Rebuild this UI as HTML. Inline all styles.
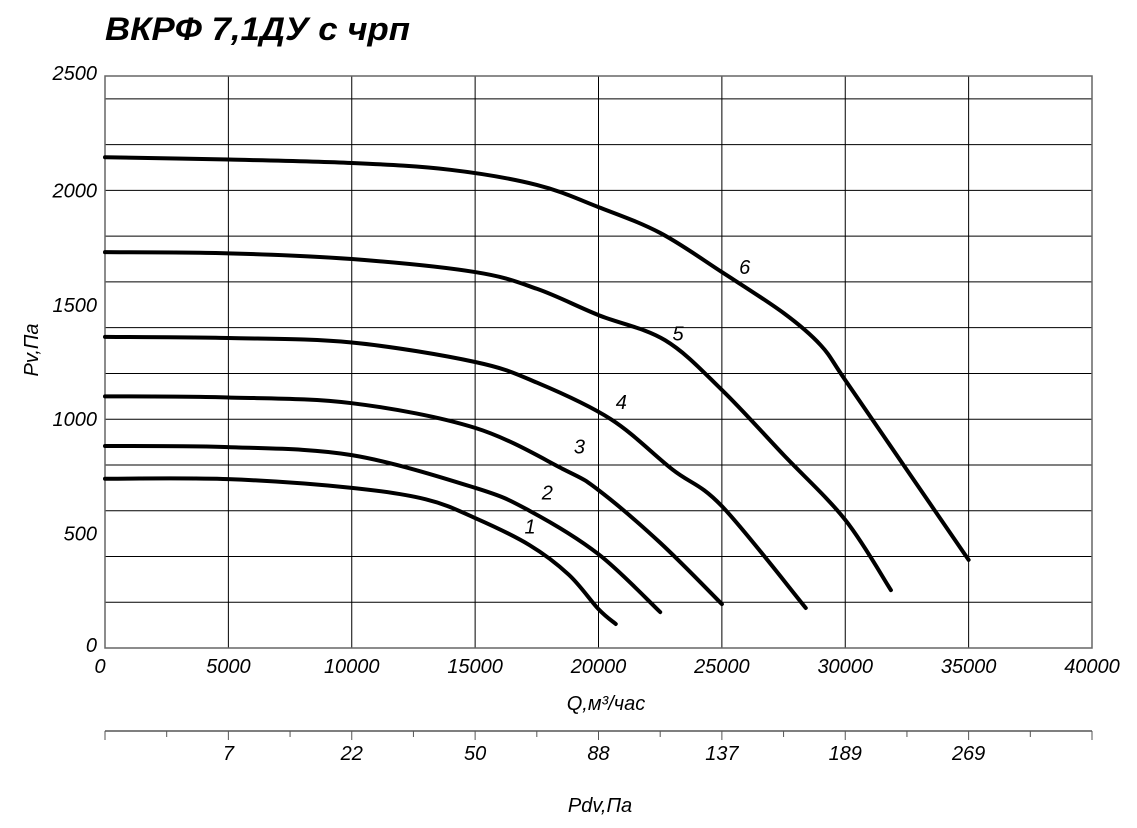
<!DOCTYPE html>
<html><head><meta charset="utf-8"><style>
body{margin:0;background:#fff;}
svg{display:block;font-family:"Liberation Sans","DejaVu Sans",sans-serif;}
</style></head><body>
<svg id="chart" width="1137" height="828" viewBox="0 0 1137 828">
<text x="105" y="40" font-size="32" font-weight="bold" font-style="italic" textLength="305" lengthAdjust="spacingAndGlyphs">ВКРФ 7,1ДУ с чрп</text>
<g id="grid"></g><g id="axes"></g><g id="curves"></g>
<text transform="translate(38,350) rotate(-90)" text-anchor="middle" font-size="20" font-style="italic">Pv,Па</text>
<text x="606" y="710" text-anchor="middle" font-size="20" font-style="italic">Q,м³/час</text>
<text x="600" y="812" text-anchor="middle" font-size="20" font-style="italic">Pdv,Па</text>
</svg>
<script>
const xTicks=[0,5000,10000,15000,20000,25000,30000,35000,40000];
const yTicks=[0,500,1000,1500,2000,2500];
const pdvLabels=["7","22","50","88","137","189","269"];
const pdvPositions=[5000,10000,15000,20000,25000,30000,35000];
const curveNames=["1","2","3","4","5","6"];
const q1=[0,5000,10000,13000,15000,17200,18800,20000,20700];
const p1=[740,738,700,650,568,450,320,170,105];
const q2=[0,5000,10000,15000,17200,20000,22500];
const p2=[883,878,843,700,600,410,157];
const q3=[0,5000,10000,15000,18600,20000,22500,25000];
const p3=[1100,1095,1070,962,780,690,460,192];
const q4=[0,5000,10000,15000,17500,20500,23000,25000,28400];
const p4=[1360,1355,1335,1250,1160,1000,780,620,175];
const q5=[0,5000,10000,15000,17500,20000,22700,25000,27500,30000,31850];
const p5=[1730,1725,1700,1643,1570,1455,1345,1128,844,560,253];
const q6=[0,5000,10000,14000,17500,20000,22500,25000,27500,29000,30000,32500,35000];
const p6=[2145,2135,2120,2090,2024,1927,1814,1643,1464,1324,1171,778,385];
const labelQ=[17000,17700,19000,20700,23000,25700];
const labelP=[500,650,850,1045,1345,1635];
const qs=[q1,q2,q3,q4,q5,q6], ps=[p1,p2,p3,p4,p5,p6];
const X=q=>105+q*(1092-105)/40000;
const Y=p=>648-p*(648-76)/2500;
const NS="http://www.w3.org/2000/svg";
function mk(t,a,parent,txt){const e=document.createElementNS(NS,t);for(const k in a)e.setAttribute(k,a[k]);if(txt!==undefined)e.textContent=txt;parent.appendChild(e);return e;}
const grid=document.getElementById('grid'),axes=document.getElementById('axes'),cv=document.getElementById('curves');
for(let p=200;p<2500;p+=200){const l=mk('line',{x1:105,x2:1092,y1:Y(p),y2:Y(p),stroke:'#000','stroke-width':1},grid);

}
xTicks.forEach(q=>{if(q>0&&q<40000){const l=mk('line',{x1:X(q),x2:X(q),y1:76,y2:648,stroke:'#000','stroke-width':1},grid);

}});
const fr=mk('rect',{x:105,y:76,width:987,height:572,fill:'none',stroke:'#666','stroke-width':1.5},grid);


xTicks.forEach(q=>{const t=mk('text',{x:X(q)-(q==0?5:0),y:673,'text-anchor':'middle','font-size':20,'font-style':'italic'},axes,String(q));

});
yTicks.forEach(p=>{const t=mk('text',{x:97,y:Y(p)+(p==0?4:p==2500?4:7),'text-anchor':'end','font-size':20,'font-style':'italic'},axes,String(p));

});
const al=mk('line',{x1:105,x2:1092,y1:731,y2:731,stroke:'#555','stroke-width':1.5},axes);


for(let q=0;q<=40000;q+=2500){const t=mk('line',{x1:X(q),x2:X(q),y1:731,y2:q%5000==0?740:737,stroke:'#555','stroke-width':1},axes);

}
pdvLabels.forEach((s,i)=>{const t=mk('text',{x:X(pdvPositions[i]),y:760,'text-anchor':'middle','font-size':20,'font-style':'italic'},axes,s);

});
function path(qa,pa){const pts=qa.map((q,i)=>[X(q),Y(pa[i])]);let d='M'+pts[0][0]+','+pts[0][1];
for(let i=0;i<pts.length-1;i++){const p0=pts[Math.max(0,i-1)],p1=pts[i],p2=pts[i+1],p3=pts[Math.min(pts.length-1,i+2)];
const c1=[p1[0]+(p2[0]-p0[0])/6,p1[1]+(p2[1]-p0[1])/6],c2=[p2[0]-(p3[0]-p1[0])/6,p2[1]-(p3[1]-p1[1])/6];
d+=` C${c1[0]},${c1[1]} ${c2[0]},${c2[1]} ${p2[0]},${p2[1]}`;}return d;}
qs.forEach((qa,i)=>{const e=mk('path',{d:path(qa,ps[i]),fill:'none',stroke:'#000','stroke-width':4,'stroke-linecap':'round'},cv);


const t=mk('text',{x:X(labelQ[i]),y:Y(labelP[i]),'font-size':20,'font-style':'italic'},cv,curveNames[i]);

});
</script>
</body></html>
